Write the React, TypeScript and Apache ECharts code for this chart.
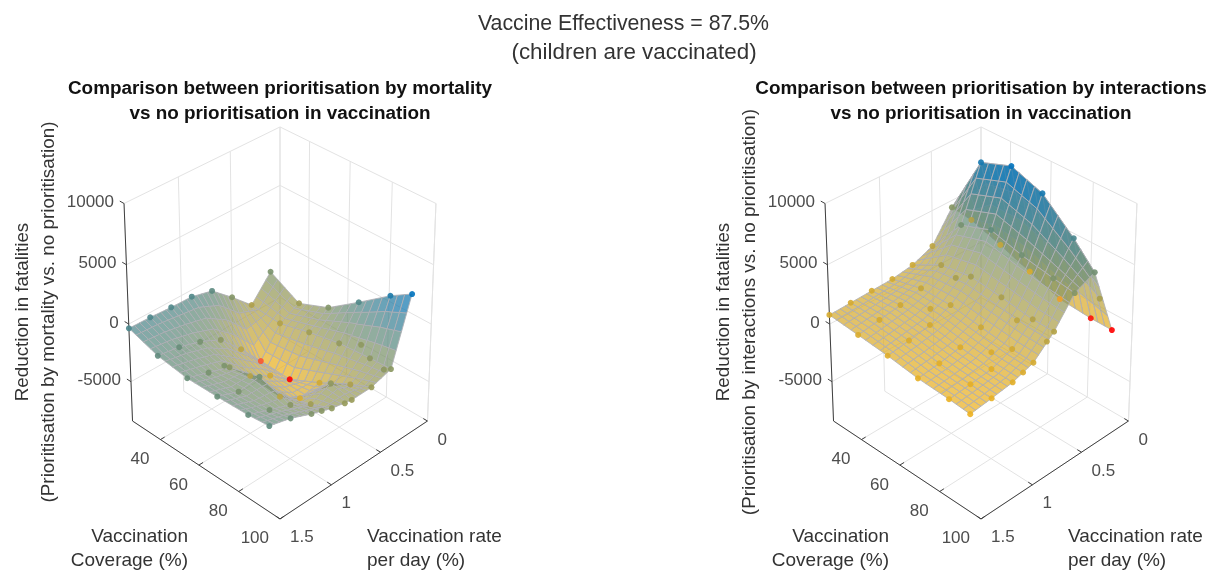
import React, { useEffect, useRef } from "react";
import * as echarts from "echarts";

const coverages = [25, 40, 55, 70, 85, 95];
const rates = [0.1, 0.3, 0.5, 0.7, 0.9, 1.1, 1.3, 1.5];

const mortality25 = [-2190, -4240, -2570, -1040, -580, -530, -410, -360];
const mortality40 = [-3600, -4420, -6810, -4720, -2880, -2030, -1480, -1190];
const mortality55 = [-2520, -3720, -6900, -5520, -4500, -2700, -2110, -1540];
const mortality70 = [-580, -3180, -5620, -5930, -4720, -1940, -2150, -1500];
const mortality85 = [1440, -2950, -4180, -3020, -3740, -2740, -2080, -1410];
const mortality95 = [2550, -2850, -3370, -3390, -3030, -2420, -1690, -1230];
// scattered samples that sit between the regular rows: [coverage, rate, reduction]
const mortalityExtras = [
  [95, 1.0, -2700],
  [95, 0.77, -3300],
  [77, 0.22, -3000],
  [93, 0.33, -2950],
  [55, 1.15, -2300],
];

const interactions25 = [2420, 4400, 1950, 1230, 960, 900, 840, 780];
const interactions40 = [1590, 9500, 5120, 2630, 1590, 1130, 850, 580];
const interactions55 = [650, 10460, 6050, 3060, 1620, 920, 610, 360];
const interactions70 = [-300, 9510, 5330, 2760, 1230, 560, 240, 30];
const interactions85 = [-490, 7180, 4820, 2390, 920, 280, 70, -100];
const interactions95 = [-510, 5310, 4560, 2360, 810, 230, -30, -250];
const interactionsExtras = [
  [95, 1.0, 520],
  [95, 0.77, 1900],
  [50, 1.0, 1300],
  [51, 0.77, 2900],
  [80, 1.0, 650],
  [79, 0.73, 1860],
  [95, 0.24, 2840],
];

const zTicks = [10000, 5000, 0, -5000];
const coverageTicks = [40, 60, 80, 100];
const rateTicks = [0, 0.5, 1, 1.5];

const FONT = '"Liberation Sans", Arial, sans-serif';
const COV_MIN = 25, COV_MAX = 100, RATE_MAX = 1.5, Z_MIN = -8500, Z_MAX = 10000;
const LEFT_CX = 280, RIGHT_CX = 981;
const SURFACE_ALPHA = 0.72;

function frac(cov: number, rate: number, z: number) {
  const c = ((cov - COV_MIN) / (COV_MAX - COV_MIN)) * 2 - 1;
  const r = (rate / RATE_MAX) * 2 - 1;
  const h = ((z - Z_MIN) / (Z_MAX - Z_MIN)) * 2 - 1;
  const L = (c - r) / 2, D = (c + r) / 2;
  const den = 1 - 0.028 * h - 0.067 * D;
  return { L, D, h, den };
}
function project(cx: number, cov: number, rate: number, z: number): [number, number] {
  const { L, D, h, den } = frac(cov, rate, z);
  return [cx + (151.6 * L) / den, (315.3 - 117.5 * h + 65.9 * D) / den];
}

function lerpAt(p: number[], t: number) {
  const i = Math.min(Math.max(Math.floor(t), 0), p.length - 2);
  return p[i] + (p[i + 1] - p[i]) * (t - i);
}
function indexOf(axis: number[], v: number) {
  for (let i = 0; i < axis.length - 1; i++) {
    if (v <= axis[i + 1] + 1e-9) return i + (v - axis[i]) / (axis[i + 1] - axis[i]);
  }
  return axis.length - 1;
}
// The fine mesh of the surface is only the drawing of the sampled values above.
function surfaceAt(rows: number[][], cov: number, rate: number) {
  const tj = indexOf(rates, rate);
  const along = rows.map((row) => lerpAt(row, tj));
  return lerpAt(along, indexOf(coverages, cov));
}
// mesh lines: every sampled value is a line, with sub-lines between neighbours
function meshLines(samples: number[], step: number) {
  const lines: number[] = [];
  for (let i = 0; i < samples.length - 1; i++) {
    const n = Math.max(1, Math.round((samples[i + 1] - samples[i]) / step));
    for (let k = 0; k < n; k++) lines.push(samples[i] + ((samples[i + 1] - samples[i]) * k) / n);
  }
  lines.push(samples[samples.length - 1]);
  return lines;
}
const covLines = meshLines(coverages, 3.75);
const rateLines = meshLines(rates, 0.05);

const STOPS: [number, number[]][] = [
  [0, [255, 0, 0]],
  [0.012, [248, 110, 60]],
  [0.022, [237, 177, 32]],
  [1, [0, 114, 189]],
];
function colour(t: number, alpha = 1) {
  const v = Math.min(Math.max(t, 0), 1);
  for (let i = 0; i < STOPS.length - 1; i++) {
    const [a, ca] = STOPS[i], [b, cb] = STOPS[i + 1];
    if (v <= b) {
      const u = (v - a) / (b - a);
      const m = ca.map((x, k) => Math.round(x + (cb[k] - x) * u));
      return `rgba(${m[0]},${m[1]},${m[2]},${alpha})`;
    }
  }
  return `rgba(0,114,189,${alpha})`;
}

function buildPanel(cx: number, rows: number[][], extras: number[][]) {
  const all = rows.flat();
  const lo = Math.min(...all), hi = Math.max(...all);
  const tOf = (z: number) => (z - lo) / (hi - lo);
  const cells: { pts: [number, number, number][]; t: number; den: number }[] = [];
  for (let a = 0; a < covLines.length - 1; a++) {
    for (let b = 0; b < rateLines.length - 1; b++) {
      const c0 = covLines[a], c1 = covLines[a + 1];
      const r0 = rateLines[b], r1 = rateLines[b + 1];
      const pts: [number, number, number][] = [
        [c0, r0, surfaceAt(rows, c0, r0)],
        [c1, r0, surfaceAt(rows, c1, r0)],
        [c1, r1, surfaceAt(rows, c1, r1)],
        [c0, r1, surfaceAt(rows, c0, r1)],
      ];
      const zm = (pts[0][2] + pts[1][2] + pts[2][2] + pts[3][2]) / 4;
      cells.push({ pts, t: tOf(zm), den: frac((c0 + c1) / 2, (r0 + r1) / 2, zm).den });
    }
  }
  cells.sort((p, q) => q.den - p.den);

  const surface = {
    type: "custom",
    coordinateSystem: "cartesian2d",
    z: 2,
    silent: true,
    clip: false,
    data: cells.map((_, i) => [i, 0]),
    encode: { x: 0, y: 1 },
    renderItem: (params: any, api: any) => {
      const cell = cells[params.dataIndex];
      return {
        type: "polygon",
        shape: { points: cell.pts.map((p) => api.coord(project(cx, p[0], p[1], p[2]))) },
        style: { fill: colour(cell.t, SURFACE_ALPHA), stroke: "rgba(176,176,182,0.95)", lineWidth: 0.9 },
      };
    },
  };

  const markerData: any[] = [];
  const addMarker = (cov: number, rate: number, z: number) =>
    markerData.push({
      value: project(cx, cov, rate, z),
      itemStyle: { color: colour(tOf(z)), opacity: 0.9 },
    });
  rows.forEach((row, i) => row.forEach((z, j) => addMarker(coverages[i], rates[j], z)));
  extras.forEach((e) => addMarker(e[0], e[1], e[2]));
  const markers = {
    type: "scatter",
    coordinateSystem: "cartesian2d",
    z: 3,
    silent: true,
    symbol: "circle",
    symbolSize: 6,
    data: markerData,
  };

  const frame = {
    type: "custom",
    coordinateSystem: "cartesian2d",
    z: 1,
    silent: true,
    clip: false,
    data: [[0, 0]],
    encode: { x: 0, y: 1 },
    renderItem: (_: any, api: any) => {
      const P = (c: number, r: number, z: number) => api.coord(project(cx, c, r, z));
      const children: any[] = [];
      const seg = (a: number[], b: number[], stroke: string) =>
        children.push({
          type: "line",
          shape: { x1: a[0], y1: a[1], x2: b[0], y2: b[1] },
          style: { stroke, lineWidth: 1 },
        });
      const GRID = "#e3e3e3", AX = "#3f3f3f";
      for (const z of zTicks) {
        seg(P(COV_MIN, RATE_MAX, z), P(COV_MIN, 0, z), GRID);
        seg(P(COV_MIN, 0, z), P(COV_MAX, 0, z), GRID);
      }
      for (const c of coverageTicks) {
        seg(P(c, 0, Z_MIN), P(c, 0, Z_MAX), GRID);
        seg(P(c, 0, Z_MIN), P(c, RATE_MAX, Z_MIN), GRID);
      }
      for (const r of rateTicks) {
        seg(P(COV_MIN, r, Z_MIN), P(COV_MIN, r, Z_MAX), GRID);
        seg(P(COV_MIN, r, Z_MIN), P(COV_MAX, r, Z_MIN), GRID);
      }
      seg(P(COV_MAX, 0, Z_MIN), P(COV_MAX, 0, Z_MAX), GRID);
      seg(P(COV_MIN, 0, Z_MIN), P(COV_MIN, 0, Z_MAX), GRID);
      // dark axes
      seg(P(COV_MIN, RATE_MAX, Z_MIN), P(COV_MIN, RATE_MAX, Z_MAX), AX);
      seg(P(COV_MIN, RATE_MAX, Z_MIN), P(COV_MAX, RATE_MAX, Z_MIN), AX);
      seg(P(COV_MAX, RATE_MAX, Z_MIN), P(COV_MAX, 0, Z_MIN), AX);
      const text = (s: string, pos: number[], align: string) =>
        children.push({
          type: "text",
          style: { text: s, x: pos[0], y: pos[1], fill: "#4d4d4d", font: `17px ${FONT}`, align, verticalAlign: "middle" },
        });
      for (const z of zTicks) {
        const p = P(COV_MIN, RATE_MAX, z);
        seg(p, P(COV_MIN - 2.2, RATE_MAX, z), AX);
        text(String(z), [p[0] - 10, p[1] - 2], "right");
      }
      for (const c of coverageTicks) {
        const p = P(c, RATE_MAX, Z_MIN);
        seg(p, P(c, RATE_MAX - 0.04, Z_MIN), AX);
        text(String(c), [p[0] - 11, p[1] + 19], "right");
      }
      for (const r of rateTicks) {
        const p = P(COV_MAX, r, Z_MIN);
        seg(p, P(COV_MAX - 2, r, Z_MIN), AX);
        text(String(r), [p[0] + 10, p[1] + 18], "left");
      }
      return { type: "group", children };
    },
  };
  return [frame, surface, markers];
}

function label(text: string, x: number, y: number, size: number, opts: any = {}) {
  const { bold, align = "center", rotate = 0, fill = "#333333" } = opts;
  return {
    type: "text",
    x,
    y,
    rotation: rotate,
    silent: true,
    style: {
      text,
      x: 0,
      y: 0,
      fill,
      font: `${bold ? "bold " : ""}${size}px ${FONT}`,
      align,
      verticalAlign: "middle",
    },
  };
}

function panelLabels(cx: number, title: string, ylabel: string) {
  const dx = cx - LEFT_CX;
  return [
    label(`Comparison between prioritisation by ${title}`, cx, 87, 18.9, { bold: true, fill: "#111" }),
    label("vs no prioritisation in vaccination", cx, 112, 18.9, { bold: true, fill: "#111" }),
    label("Reduction in fatalities", 21 + dx, 312, 18.8, { rotate: Math.PI / 2 }),
    label(ylabel, 47 + dx, 312, 18.9, { rotate: Math.PI / 2 }),
    label("Vaccination", 188 + dx, 535, 19, { align: "right" }),
    label("Coverage (%)", 188 + dx, 559, 19, { align: "right" }),
    label("Vaccination rate", 367 + dx, 535, 19, { align: "left" }),
    label("per day (%)", 367 + dx, 559, 19, { align: "left" }),
  ];
}

export default function App() {
  const ref = useRef<HTMLDivElement>(null);
  useEffect(() => {
    document.body.style.margin = "0";
    const chart = echarts.init(ref.current!, undefined, { renderer: "svg" });
    const leftRows = [mortality25, mortality40, mortality55, mortality70, mortality85, mortality95];
    const rightRows = [interactions25, interactions40, interactions55, interactions70, interactions85, interactions95];
    chart.setOption({
      animation: false,
      backgroundColor: "#ffffff",
      grid: { left: 0, right: 0, top: 0, bottom: 0 },
      xAxis: { type: "value", min: 0, max: 1213, show: false },
      yAxis: { type: "value", min: 0, max: 570, inverse: true, show: false },
      series: [
        ...buildPanel(LEFT_CX, leftRows, mortalityExtras),
        ...buildPanel(RIGHT_CX, rightRows, interactionsExtras),
      ],
      graphic: [
        label("Vaccine Effectiveness = 87.5%", 623.5, 23, 21.3),
        label("(children are vaccinated)", 634, 51, 22.4),
        ...panelLabels(LEFT_CX, "mortality", "(Prioritisation by mortality vs. no prioritisation)"),
        ...panelLabels(RIGHT_CX, "interactions", "(Prioritisation by interactions vs. no prioritisation)"),
      ],
    });
    return () => chart.dispose();
  }, []);
  return <div ref={ref} style={{ width: 1213, height: 570, filter: "blur(0.4px)" }} />;
}
